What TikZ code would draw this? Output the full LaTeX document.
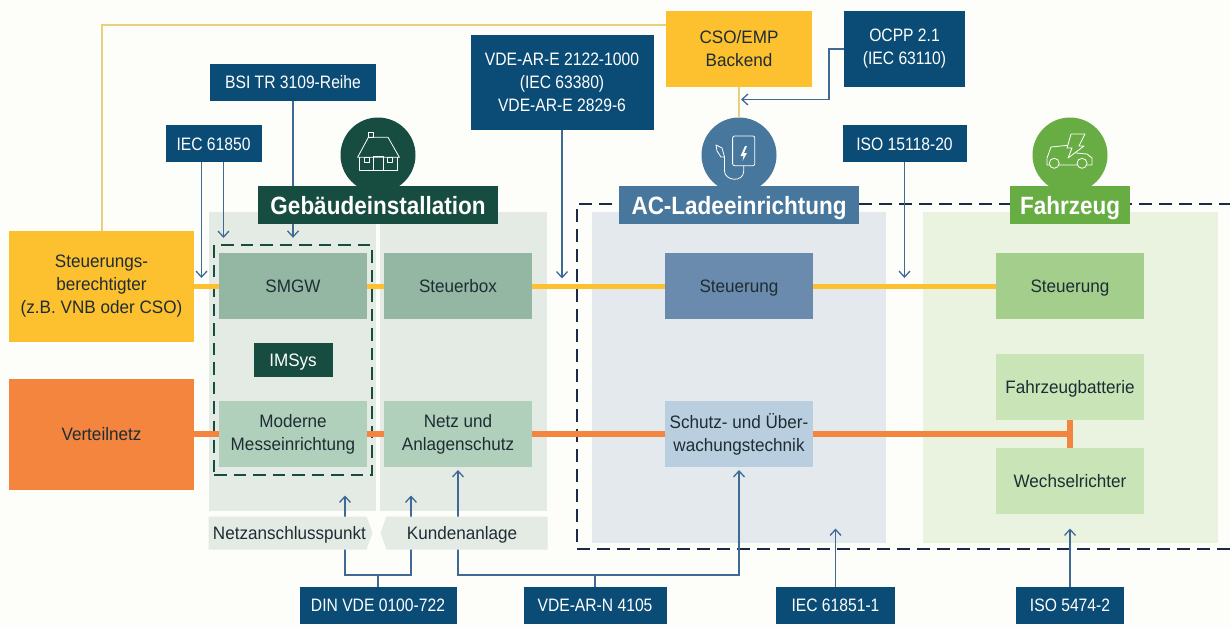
\documentclass[tikz,border=0pt]{standalone}
\usepackage{fontspec}
\setmainfont[FakeStretch=0.95]{Liberation Sans}
\newfontfamily\stdfont[FakeStretch=0.87]{Liberation Sans}
\newfontfamily\ttlfont[FakeStretch=0.9]{Liberation Sans}
\usetikzlibrary{shapes, arrows.meta, fit}
\pgfdeclarelayer{panel}
\pgfdeclarelayer{line}
\pgfsetlayers{panel,line,main}
\definecolor{paper}{HTML}{FDFDFA}
\definecolor{navy}{HTML}{0A4C75}
\definecolor{sun}{HTML}{FDC02F}
\definecolor{sunline}{HTML}{E9D080}
\definecolor{tango}{HTML}{F4853F}
\definecolor{pine}{HTML}{174C40}
\definecolor{steel}{HTML}{47779D}
\definecolor{leaf}{HTML}{68AD43}
\definecolor{arrowline}{HTML}{3F6A95}
\definecolor{ink}{HTML}{1E2D33}
\definecolor{zoneink}{HTML}{1C2B45}
\definecolor{smgwfill}{HTML}{93B7A3}
\definecolor{mefill}{HTML}{B0D0BC}
\definecolor{acfill}{HTML}{6A8BAD}
\definecolor{schutzfill}{HTML}{B9CEDF}
\definecolor{fzfill}{HTML}{A3CE8C}
\definecolor{fzlight}{HTML}{C9E4B6}
\definecolor{panelgreen}{HTML}{E4EBE4}
\definecolor{panelblue}{HTML}{E4E9EE}
\definecolor{panelleaf}{HTML}{EAF2E0}
\newcommand{\lbl}{\fontsize{18}{23}\selectfont}
\newcommand{\ttl}{\ttlfont\fontsize{25}{28}\selectfont\bfseries}
\tikzstyle{block} = [rectangle, align=center, inner sep=0pt, outer sep=0pt, text=ink, font=\lbl]
\tikzstyle{oneline} = [text height=15pt, text depth=2pt]
\tikzstyle{std} = [block, fill=navy, text=white, font=\stdfont\lbl]
\tikzstyle{inner} = [block, minimum width=148pt, minimum height=66pt]
\tikzstyle{panel} = [block, minimum height=331pt]
\tikzstyle{source} = [block, minimum width=185pt, minimum height=111pt]
\tikzstyle{title} = [block, text=white, font=\ttl, minimum height=38pt, text height=20pt, text depth=2pt]
\tikzstyle{badge} = [circle, minimum size=75pt, inner sep=0pt]
\tikzstyle{access} = [block, shape=signal, signal pointer angle=140, fill=panelgreen, minimum height=33pt]
\tikzstyle{icon} = [draw=white, line width=0.8pt, line join=round]
\tikzstyle{stdline} = [draw=arrowline, line width=1.3pt]
\tikzstyle{yline} = [draw=sun, line width=5pt]
\tikzstyle{oline} = [draw=tango, line width=5.5pt]

\begin{document}
\begin{tikzpicture}[x=1pt, y=1pt, >={Straight Barb[length=6pt, width=11pt]}]
  \useasboundingbox (0,0) rectangle (1230,-627);
  % middle row
  \node [inner, oneline, fill=smgwfill] at (293,-286) (smgw) {SMGW};
  \node [inner, oneline, fill=smgwfill, right of=smgw, node distance=165pt] (steuerbox) {Steuerbox};
  \node [inner, oneline, fill=acfill, right of=steuerbox, node distance=281pt] (acsteuer) {Steuerung};
  \node [inner, oneline, fill=fzfill, right of=acsteuer, node distance=331pt] (fzsteuer) {Steuerung};
  \node [block, oneline, fill=pine, text=white, minimum width=79pt, minimum height=34pt, below of=smgw, node distance=74pt] (imsys) {IMSys};
  \node [inner, fill=mefill, below of=smgw, node distance=148pt] (moderne) {Moderne\\Messeinrichtung};
  \node [inner, fill=mefill, right of=moderne, node distance=165pt] (anlage) {Netz und\\Anlagenschutz};
  \node [inner, fill=schutzfill, right of=anlage, node distance=281pt] (schutz) {Schutz- und Über-\\wachungstechnik};
  \node [inner, oneline, fill=fzlight, below of=fzsteuer, node distance=101pt] (batterie) {Fahrzeugbatterie};
  \node [inner, oneline, fill=fzlight, below of=batterie, node distance=93.5pt] (wechsel) {Wechselrichter};
  \node [source, fill=sun, left of=smgw, node distance=191.5pt] (berechtigt) {Steuerungs-\\berechtigter\\(z.B. VNB oder CSO)};
  \node [source, oneline, fill=tango, left of=moderne, node distance=191.5pt] (verteil) {Verteilnetz};
  % top row
  \node [block, fill=sun, minimum width=146pt, minimum height=76pt, above of=acsteuer, node distance=237pt] (cso) {CSO/EMP\\Backend};
  \node [std, minimum width=121pt, minimum height=76pt, right of=cso, node distance=165.5pt] (ocpp) {OCPP 2.1\\(IEC 63110)};
  \node [std, oneline, minimum width=124pt, minimum height=37pt, below of=ocpp, node distance=94.5pt] (iso15118) {ISO 15118-20};
  \node [std, oneline, minimum width=166pt, minimum height=37pt, above of=smgw, node distance=204pt] (bsi) {BSI TR 3109-Reihe};
  \node [std, minimum width=183pt, minimum height=95pt, right of=bsi, node distance=269pt] (vdee) {VDE-AR-E 2122-1000\\(IEC 63380)\\VDE-AR-E 2829-6};
  \node [std, oneline, minimum width=96pt, minimum height=37pt, left of=smgw, node distance=79.5pt, yshift=142.5pt] (iec61850) {IEC 61850};
  % badges and titles
  \node [badge, fill=pine, left of=steuerbox, node distance=80pt, yshift=131pt] (house) {};
  \node [badge, fill=steel, above of=acsteuer, node distance=131pt] (charger) {};
  \node [badge, fill=leaf, above of=fzsteuer, node distance=131pt] (car) {};
  \node [title, fill=pine, minimum width=240pt, below of=house, node distance=50pt] (gebaeude) {Gebäudeinstallation};
  \node [title, fill=steel, minimum width=240pt, below of=charger, node distance=50pt] (ladeein) {AC-Ladeeinrichtung};
  \node [title, fill=leaf, minimum width=120pt, below of=car, node distance=50pt] (fahrzeug) {Fahrzeug};
  % bottom row
  \node [access, oneline, signal to=east, minimum width=164pt, below of=moderne, node distance=99pt, xshift=-5.5pt] (netzpunkt) {\hspace*{4pt}Netzanschlusspunkt};
  \node [access, oneline, signal to=west, minimum width=167pt, right of=netzpunkt, node distance=179.5pt] (kunde) {Kundenanlage\hspace*{10pt}};
  \node [std, oneline, minimum width=157pt, minimum height=37pt, below of=moderne, node distance=171pt, xshift=85pt] (din) {DIN VDE 0100-722};
  \node [std, oneline, minimum width=143pt, minimum height=37pt, right of=din, node distance=217pt] (vden) {VDE-AR-N 4105};
  \node [std, oneline, minimum width=119pt, minimum height=37pt, right of=vden, node distance=240.5pt] (iec61851) {IEC 61851-1};
  \node [std, oneline, minimum width=108pt, minimum height=37pt, right of=iec61851, node distance=234.5pt] (iso5474) {ISO 5474-2};
  % icons
  \begin{scope}[shift={(house.center)}]
    \draw [icon] (-20.4,-2.3) -- (-9.6,17.7) -- (10,17.7) -- (21.4,-2.3) -- cycle;
    \draw [icon] (-18.6,-2.3) -- (-18.6,-15.7) -- (18.9,-15.7) -- (18.9,-2.3);
    \draw [icon] (-5,-15.7) -- (-5,-1) -- (5.4,-1) -- (5.4,-15.7);
    \draw [icon] (-14,-7) rectangle +(5,5);
    \draw [icon] (9.3,-7) rectangle +(5,5);
    \draw [icon] (-9.5,17.7) rectangle +(5,5);
  \end{scope}
  \begin{scope}[shift={(charger.center)}]
    \draw [icon, rounded corners=2pt] (-6.4,-10.7) rectangle (15.8,19);
    \fill [white] (6,9) -- (1.5,-1) -- (4.5,-1) -- (3.5,-6) -- (8,2) -- (5,2) -- (8,9) -- cycle;
    \draw [icon] (-14.5,-2) -- (-17,7) -- (-23,10) -- (-22,4) -- (-18,-2) -- cycle;
    \draw [icon] (-14.5,-2) -- (-14.5,-16) .. controls (-14.5,-26) and (4.7,-28) .. (4.7,-16) -- (4.7,-10.7);
  \end{scope}
  \begin{scope}[shift={(car.center)}]
    \draw [icon] (-23,-10) -- (-23,-3) -- (-19,8) -- (-2,9.7) -- (6,2) -- (17,1) -- (22,-3) -- (22,-10) -- cycle;
    \draw [icon, fill=leaf] (-15.8,-8.3) circle (5pt);
    \draw [icon, fill=leaf] (12,-8.3) circle (5pt);
    \draw [icon, fill=leaf] (1,21) -- (15,21) -- (9,9) -- (14,9) -- (-2,-3) -- (2,7) -- (-3,7) -- cycle;
  \end{scope}
  % panels
  \begin{pgfonlayer}{panel}
    \fill [paper] (0,0) rectangle (1230,-627);
    \node [panel, fill=panelgreen, minimum width=167pt, minimum height=299pt] at (292.5,-361.5) (panelnetz) {};
    \node [panel, fill=panelgreen, minimum width=167pt, minimum height=299pt] at (463.5,-361.5) (panelkunde) {};
    \node [panel, fill=panelblue, minimum width=294pt] at (739,-377.5) (panelac) {};
    \node [panel, fill=panelleaf, minimum width=295pt] at (1070.5,-377.5) (panelfz) {};
  \end{pgfonlayer}
  % connectors
  \begin{pgfonlayer}{line}
    \node [draw=pine, line width=2.4pt, dash pattern=on 12.5pt off 7pt, inner xsep=5pt, inner ysep=8pt, fit=(smgw)(moderne)] (imsysbox) {};
    \draw [draw=zoneink, line width=2.4pt, dash pattern=on 13pt off 7pt] (1232,-204) -| (577,-549) -- (1232,-549);
    \draw [yline] (berechtigt) -- (smgw);
    \draw [yline] (smgw) -- (steuerbox);
    \draw [yline] (steuerbox) -- (acsteuer);
    \draw [yline] (acsteuer) -- (fzsteuer);
    \draw [oline] (verteil) -- (moderne);
    \draw [oline] (moderne) -- (anlage);
    \draw [oline] (anlage) -- (schutz);
    \draw [oline] (schutz) -- (batterie.south |- schutz);
    \draw [oline] (batterie) -- (wechsel);
    \draw [draw=sunline, line width=2pt] (berechtigt.north) |- ([yshift=24.5pt]cso.west);
    \draw [draw=sunline, line width=2pt] (cso) -- (charger);
    \draw [stdline, ->] (bsi) -- ([yshift=6pt]imsysbox.north);
    \draw [stdline, ->] ([xshift=-12pt]iec61850.south) -- ([xshift=-12pt,yshift=-116pt]iec61850.south);
    \draw [stdline, ->] ([xshift=10pt]iec61850.south) -- ([xshift=10pt,yshift=-76pt]iec61850.south);
    \draw [stdline, ->] (vdee) -- ([yshift=-149pt]vdee.south);
    \draw [stdline, ->] (iso15118) -- ([yshift=-116pt]iso15118.south);
    \draw [stdline, ->] (ocpp.west) -- ++(-15pt,0) |- ([xshift=2pt,yshift=-12.5pt]cso.south);
    \draw [stdline] (din.north) -- ++(0,11.5pt) coordinate (dinfork);
    \draw [stdline, ->] (dinfork) -| ([xshift=-33pt,yshift=91pt]din.north);
    \draw [stdline, ->] (dinfork) -| ([xshift=33pt,yshift=91pt]din.north);
    \draw [stdline] (vden.north) -- ++(0,11.5pt) coordinate (vdenfork);
    \draw [stdline, ->] (vdenfork) -| ([yshift=-3pt]anlage.south);
    \draw [stdline, ->] (vdenfork) -| ([yshift=-3pt]schutz.south);
    \draw [stdline, ->] (iec61851) -- ([yshift=58pt]iec61851.north);
    \draw [stdline, ->] (iso5474) -- ([yshift=58pt]iso5474.north);
  \end{pgfonlayer}
\end{tikzpicture}
\end{document}
